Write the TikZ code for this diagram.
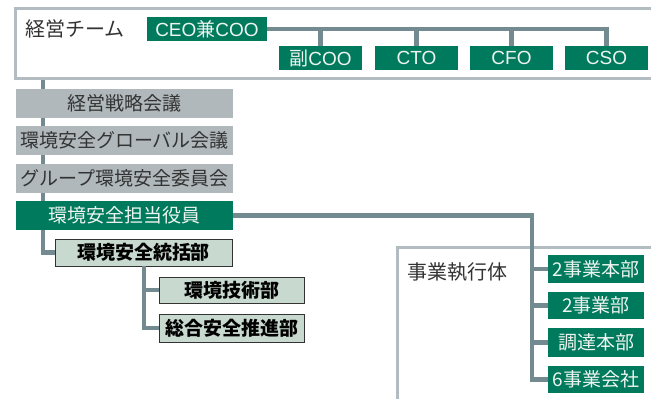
\documentclass[tikz,border=0pt]{standalone}
\usepackage{fontspec}
\setmainfont{Noto Sans CJK JP}
\newfontfamily\lat{Liberation Sans}
\definecolor{grn}{HTML}{007A5C}
\definecolor{gbox}{HTML}{B0B8BC}
\definecolor{frame}{HTML}{B3BCC0}
\definecolor{conn}{HTML}{728A90}
\definecolor{lgbox}{HTML}{C8D9D0}
\definecolor{dtext}{HTML}{333333}
\definecolor{wtext}{HTML}{EEF4F0}
\tikzset{
  conline/.style={draw=conn, line width=4.5pt},
  greenbox/.style={fill=grn, text=wtext, inner sep=0pt, font=\fontsize{19}{19}\selectfont},
  graybox/.style={fill=gbox, text=dtext, inner sep=0pt, minimum width=217pt, minimum height=29pt, font=\fontsize{19}{19}\selectfont},
  deptbox/.style={fill=lgbox, draw=dtext, line width=0.9pt, text=black, inner sep=0pt, font=\fontsize{19}{19}\selectfont\bfseries},
  framebox/.style={draw=frame, line width=3pt, fill=white},
  caption/.style={anchor=west, inner sep=0pt, text=dtext, font=\fontsize{20}{20}\selectfont},
}
\begin{document}
\begin{tikzpicture}[x=1pt, y=-1pt]
\useasboundingbox (0,0) rectangle (651,399);
% frames
\draw[framebox] (15.5,8) rectangle (700,78);
\draw[framebox] (397,247) rectangle (700,450);
\node[caption] (team) at (25,29) {経営チーム};
\node[caption] (exec) at (407,272) {事業執行体};
% top team boxes
\node[greenbox, minimum width=120pt, minimum height=24pt] (ceo) at (207,29) {{\lat CEO}兼{\lat COO}};
\node[greenbox, minimum width=83pt, minimum height=24pt] (fuku) at (320.5,58) {副{\lat COO}};
\node[greenbox, minimum width=83pt, minimum height=24pt] (cto) at (416.5,58) {\lat CTO};
\node[greenbox, minimum width=83pt, minimum height=24pt] (cfo) at (511.5,58) {\lat CFO};
\node[greenbox, minimum width=83pt, minimum height=24pt] (cso) at (606.5,58) {\lat CSO};
% team connectors
\draw[conline] (ceo.east) -| (cso.north);
\draw[conline] (fuku.north |- ceo.east) -- (fuku.north);
\draw[conline] (cto.north |- ceo.east) -- (cto.north);
\draw[conline] (cfo.north |- ceo.east) -- (cfo.north);
% spine
\coordinate (spine) at (43,79.5);
\coordinate (rx) at (532,215.5);
% nodes left column (placed after spine line below)
\path (124.5,103.5) coordinate (p1) (124.5,140.5) coordinate (p2) (124.5,178.5) coordinate (p3) (124.5,215.5) coordinate (p4);
\node[deptbox, minimum width=177pt, minimum height=27pt] (tokatsu) at (143.5,252.5) {環境安全統括部};
\draw[conline] (spine) |- (tokatsu.west);
\node[graybox] (senryaku) at (p1) {経営戦略会議};
\node[graybox] (global) at (p2) {環境安全グローバル会議};
\node[graybox] (group) at (p3) {グループ環境安全委員会};
\node[greenbox, minimum width=217pt, minimum height=29pt] (tanto) at (p4) {環境安全担当役員};
% departments
\node[deptbox, minimum width=145pt, minimum height=26pt] (gijutsu) at (231.5,290) {環境技術部};
\node[deptbox, minimum width=145pt, minimum height=28pt] (suishin) at (231.5,328) {総合安全推進部};
\coordinate (tx) at (144,266);
\draw[conline] (tx) |- (suishin.west);
\draw[conline] (tx |- gijutsu.west) -- (gijutsu.west);
% business units
\node[greenbox, minimum width=96pt, minimum height=28pt] (hq2) at (596,269) {2事業本部};
\node[greenbox, minimum width=96pt, minimum height=27pt] (bu2) at (596,305.5) {2事業部};
\node[greenbox, minimum width=96pt, minimum height=29pt] (chotatsu) at (596,342.5) {調達本部};
\node[greenbox, minimum width=96pt, minimum height=27pt] (co6) at (596,379.5) {6事業会社};
\draw[conline] (tanto.east) -- (rx) |- (co6.west);
\draw[conline] (rx |- hq2.west) -- (hq2.west);
\draw[conline] (rx |- bu2.west) -- (bu2.west);
\draw[conline] (rx |- chotatsu.west) -- (chotatsu.west);
\end{tikzpicture}
\end{document}
